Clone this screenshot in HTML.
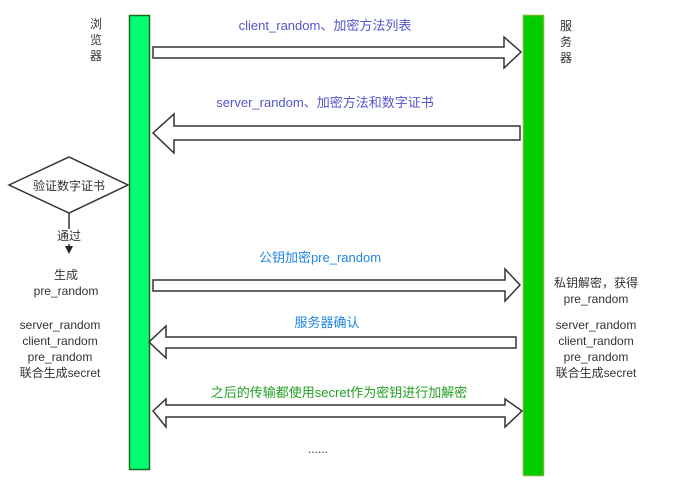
<!DOCTYPE html>
<html><head><meta charset="utf-8"><style>
body{margin:0;width:698px;height:499px;background:#fff;overflow:hidden}
svg text{font-family:"Liberation Sans","Noto Sans CJK SC",sans-serif;font-size:12px}
svg text.big{font-size:13px}
</style></head><body>
<svg width="698" height="499" viewBox="0 0 698 499">
<rect x="129.5" y="15.5" width="20" height="454" fill="#00ff73" stroke="#1a6a1a" stroke-width="1.5"/>
<rect x="523.5" y="15.5" width="20" height="460" fill="#00cc00" stroke="#66bb22" stroke-width="1.5"/>
<g fill="#333" text-anchor="middle">
<text x="96" y="28">浏</text><text x="96" y="44">览</text><text x="96" y="60">器</text>
<text x="566" y="30">服</text><text x="566" y="46">务</text><text x="566" y="62">器</text>
</g>
<g fill="#fff" stroke="#333" stroke-width="1.5">
<polygon points="153,47 504,47 504,37 521,52 504,68 504,58 153,58"/>
<polygon points="520,126 174,126 174,114 153,133 174,153 174,140 520,140"/>
<polygon points="153,280 505,280 505,269 520,285 505,301 505,291 153,291"/>
<polygon points="516,337 166,337 166,326 149,342 166,358 166,348 516,348"/>
<polygon points="153,411 166,399 166,405 505,405 505,399 522,411 505,427 505,417 166,417 166,427"/>
<polygon points="9,185 69,157 128,185 69,213"/>
</g>
<line x1="69" y1="213" x2="69" y2="246" stroke="#333" stroke-width="1.5"/>
<polygon points="65,246 73,246 69,254" fill="#222"/>
<rect x="55" y="229" width="28" height="15" fill="#fff"/>
<text x="69" y="240" fill="#333" text-anchor="middle">通过</text>
<text x="69" y="190" fill="#333" text-anchor="middle">验证数字证书</text>
<text class="big" x="325" y="30" fill="#5555cc" text-anchor="middle">client_random、加密方法列表</text>
<text class="big" x="325" y="107" fill="#5555cc" text-anchor="middle">server_random、加密方法和数字证书</text>
<text class="big" x="320" y="262" fill="#1f86e0" text-anchor="middle">公钥加密pre_random</text>
<text class="big" x="327" y="327" fill="#1f86e0" text-anchor="middle">服务器确认</text>
<text class="big" x="339" y="397" fill="#22a022" text-anchor="middle">之后的传输都使用secret作为密钥进行加解密</text>
<text x="318" y="453" fill="#333" text-anchor="middle">......</text>
<g fill="#333" text-anchor="middle">
<text x="66" y="279">生成</text><text x="66" y="295">pre_random</text>
<text x="60" y="329">server_random</text><text x="60" y="345">client_random</text>
<text x="60" y="361">pre_random</text><text x="60" y="377">联合生成secret</text>
<text x="596" y="287">私钥解密，获得</text><text x="596" y="303">pre_random</text>
<text x="596" y="329">server_random</text><text x="596" y="345">client_random</text>
<text x="596" y="361">pre_random</text><text x="596" y="377">联合生成secret</text>
</g>
</svg>
</body></html>
